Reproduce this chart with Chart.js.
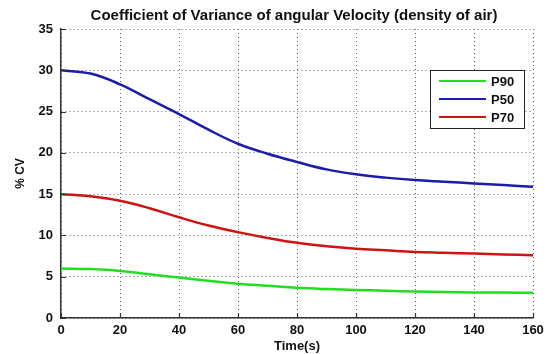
<!DOCTYPE html>
<html>
<head>
<meta charset="utf-8">
<script src="https://cdn.jsdelivr.net/npm/chart.js@4"></script>
<style>
  html, body { margin: 0; padding: 0; background: #fff; }
  #wrap { position: relative; width: 550px; height: 354px; }
</style>
</head>
<body>
<div id="wrap"><canvas id="chart" width="550" height="354"></canvas></div>
<script>
// time samples (s) and %CV per percentile
const timeS = [0, 10, 20, 30, 40, 50, 60, 70, 80, 90, 100, 110, 120, 130, 140, 150, 160];
const p90 = [6.0, 5.92, 5.7, 5.3, 4.9, 4.5, 4.15, 3.9, 3.65, 3.5, 3.4, 3.3, 3.2, 3.15, 3.1, 3.08, 3.05];
const p50 = [30.0, 29.6, 28.3, 26.5, 24.7, 22.8, 21.1, 19.9, 18.9, 18.0, 17.4, 17.0, 16.7, 16.5, 16.3, 16.1, 15.9];
const p70 = [15.0, 14.75, 14.2, 13.3, 12.2, 11.2, 10.4, 9.7, 9.1, 8.7, 8.4, 8.2, 8.0, 7.9, 7.8, 7.7, 7.6];
const xTicks = [0, 20, 40, 60, 80, 100, 120, 140, 160];
const yTicks = [0, 5, 10, 15, 20, 25, 30, 35];
const titleText = "Coefficient of Variance of angular Velocity (density of air)";

const FONT = "'Liberation Sans', Arial, sans-serif";
const toPts = arr => arr.map((v, i) => ({ x: timeS[i], y: v }));

// title centred over the plot area
const plotTitle = {
  id: "plotTitle",
  afterDraw(chart) {
    const { ctx, chartArea } = chart;
    ctx.save();
    ctx.font = "bold 15px " + FONT;
    ctx.fillStyle = "#111";
    ctx.textAlign = "center";
    ctx.textBaseline = "alphabetic";
    ctx.fillText(titleText, (chartArea.left + chartArea.right) / 2 - 3, 20);
    ctx.restore();
  },
};

// short inward tick marks on the left and bottom axes
const innerTicks = {
  id: "innerTicks",
  afterDraw(chart) {
    const { ctx, chartArea, scales } = chart;
    ctx.save();
    ctx.strokeStyle = "#333";
    ctx.lineWidth = 1.2;
    ctx.beginPath();
    xTicks.forEach(v => {
      const x = Math.round(scales.x.getPixelForValue(v)) + 0.5;
      ctx.moveTo(x, chartArea.bottom);
      ctx.lineTo(x, chartArea.bottom - 5);
    });
    yTicks.forEach(v => {
      const y = Math.round(scales.y.getPixelForValue(v)) + 0.5;
      ctx.moveTo(chartArea.left, y);
      ctx.lineTo(chartArea.left + 5, y);
    });
    ctx.stroke();
    ctx.restore();
  },
};

// boxed legend drawn inside the plot, upper right
const boxLegend = {
  id: "boxLegend",
  afterDraw(chart) {
    const ctx = chart.ctx;
    const x0 = 430, y0 = 70, w = 94, h = 58;
    ctx.save();
    ctx.fillStyle = "#fff";
    ctx.fillRect(x0, y0, w, h);
    ctx.strokeStyle = "#222";
    ctx.lineWidth = 1;
    ctx.strokeRect(x0 + 0.5, y0 + 0.5, w, h);
    ctx.font = "bold 13px " + FONT;
    ctx.textBaseline = "middle";
    chart.data.datasets.forEach((ds, i) => {
      const y = y0 + 11 + i * 18;
      ctx.strokeStyle = ds.borderColor;
      ctx.lineWidth = 2;
      ctx.beginPath();
      ctx.moveTo(x0 + 9, y);
      ctx.lineTo(x0 + 56, y);
      ctx.stroke();
      ctx.fillStyle = "#111";
      ctx.fillText(ds.label, x0 + 61, y + 1);
    });
    ctx.restore();
  },
};

new Chart(document.getElementById("chart"), {
  type: "line",
  data: {
    datasets: [
      { label: "P90", data: toPts(p90), borderColor: "#22dd22" },
      { label: "P50", data: toPts(p50), borderColor: "#1c1ca8" },
      { label: "P70", data: toPts(p70), borderColor: "#cc1414" },
    ],
  },
  options: {
    responsive: false,
    animation: false,
    layout: { padding: { top: 29, right: 17, left: 0, bottom: 0 } },
    elements: {
      line: { borderWidth: 2.5, tension: 0.4, fill: false },
      point: { radius: 0 },
    },
    plugins: {
      legend: { display: false },
      tooltip: { enabled: false },
      title: { display: false },
    },
    scales: {
      x: {
        type: "linear",
        min: 0,
        max: 160,
        afterBuildTicks: s => { s.ticks = xTicks.map(v => ({ value: v })); },
        afterFit: s => { s.height = 36; },
        grid: { color: "#666", drawTicks: false },
        border: { color: "#333", width: 1.5, dash: [1, 3] },
        ticks: { color: "#111", padding: 5, font: { family: FONT, size: 13, weight: "bold" } },
        title: {
          display: true,
          text: "Time(s)",
          color: "#111",
          padding: { top: 1, bottom: 0 },
          font: { family: FONT, size: 13, weight: "bold" },
        },
      },
      y: {
        min: 0,
        max: 35,
        afterBuildTicks: s => { s.ticks = yTicks.map(v => ({ value: v })); },
        afterFit: s => { s.width = 61; },
        grid: { color: "#666", drawTicks: false },
        border: { color: "#333", width: 1.5, dash: [1, 3] },
        ticks: { color: "#111", padding: 8, font: { family: FONT, size: 13, weight: "bold" } },
        title: {
          display: true,
          text: "% CV",
          color: "#111",
          padding: { top: 13, bottom: 0 },
          font: { family: FONT, size: 12, weight: "bold" },
        },
      },
    },
  },
  plugins: [innerTicks, boxLegend, plotTitle],
});
</script>
</body>
</html>
